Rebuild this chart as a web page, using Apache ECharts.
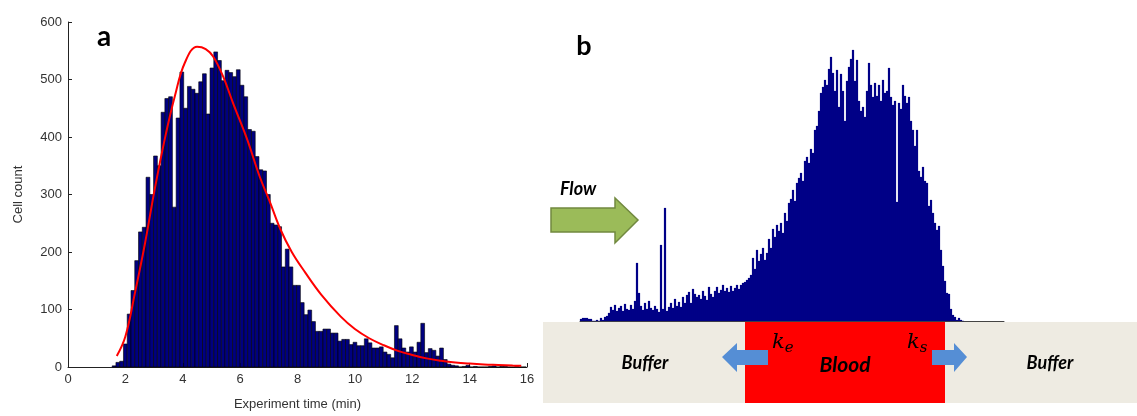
<!DOCTYPE html>
<html>
<head>
<meta charset="utf-8">
<script src="https://cdn.jsdelivr.net/npm/echarts@6/dist/echarts.min.js"></script>
<style>
html,body{margin:0;padding:0;background:#fff;}
#chart{width:1137px;height:416px;}
</style>
</head>
<body>
<div id="chart"></div>
<script>
// ---------- Panel a: histogram of experiment time ----------
const binStart = 1.54;      // min
const binWidth = 0.1312;    // min
const cellCounts = [
  2, 8, 10, 40, 92, 133, 185, 235, 243, 330,
  300, 367, 350, 443, 467, 470, 278, 433, 513, 450,
  488, 483, 476, 496, 510, 440, 520, 548, 533, 498,
  516, 512, 505, 517, 490, 470, 413, 410, 366, 343,
  341, 300, 250, 247, 244, 174, 205, 174, 142, 142,
  112, 91, 99, 79, 62, 62, 66, 66, 59, 59,
  45, 48, 48, 39, 43, 37, 37, 49, 42, 33,
  33, 35, 26, 22, 16, 72, 49, 33, 26, 35,
  26, 43, 76, 25, 32, 29, 19, 33, 13, 5,
  3, 2, 0, 1, 3, 0, 1, 0, 0, 0,
  1, 2, 0, 1, 1, 0, 0, 1, 0, 0
];
// fitted curve
const fitTime  = [1.70, 2.0, 2.33, 2.68, 3.03, 3.38, 3.73, 4.08, 4.5, 4.8, 5.06, 5.41, 5.76, 6.23, 6.69, 7.0, 7.4, 7.8, 8.26, 8.84, 9.5, 10.0, 10.5, 11.0, 11.5, 12.0, 12.5, 13.0, 13.5, 14.0, 14.5, 15.0, 15.5, 15.8];
const fitCount = [19, 53, 128, 214, 311, 398, 472, 530, 557, 553, 540, 505, 458, 398, 330, 292, 240, 200, 165, 125, 88, 66, 50, 38, 28, 21, 15, 11, 8, 6, 4.5, 3.5, 2.5, 2];
const xTicks = [0, 2, 4, 6, 8, 10, 12, 14, 16];
const yTicks = [0, 100, 200, 300, 400, 500, 600];

// ---------- Panel b: cell-position profile along the channel ----------
const profileHeights = [
  2, 3, 3, 3, 2, 2, 0, 0, 1, 0,
  3, 1, 4, 5, 8, 14, 11, 16, 10, 13,
  15, 10, 17, 12, 11, 16, 12, 20, 58, 28,
  15, 11, 18, 12, 20, 13, 11, 15, 12, 9,
  76, 12, 113, 10, 14, 18, 13, 22, 15, 19,
  14, 24, 18, 26, 29, 18, 32, 27, 24, 26,
  22, 30, 25, 21, 34, 27, 24, 30, 34, 28,
  31, 36, 30, 33, 29, 35, 30, 33, 36, 32,
  36, 38, 39, 41, 43, 46, 63, 52, 71, 60,
  67, 73, 61, 68, 82, 73, 92, 84, 96, 90,
  98, 88, 108, 100, 118, 122, 131, 120, 138, 143,
  148, 140, 160, 164, 158, 172, 168, 191, 195, 210,
  228, 234, 241, 236, 252, 264, 248, 230, 251, 214,
  247, 230, 200, 240, 254, 262, 271, 240, 261, 220,
  210, 214, 204, 230, 258, 236, 224, 238, 225, 236,
  220, 241, 228, 230, 253, 224, 216, 220, 119, 218,
  212, 236, 225, 218, 224, 200, 191, 175, 191, 150,
  144, 154, 140, 138, 115, 121, 108, 98, 91, 95,
  71, 55, 40, 28, 27, 12, 6, 4, 1, 3,
  1, 0
];

// diagram texts
const regionLabels = ['Buffer', 'Blood', 'Buffer'];
const panelLabels = ['a', 'b'];
const flowLabel = 'Flow';

const chart = echarts.init(document.getElementById('chart'), null, {renderer: 'canvas'});

const histData = cellCounts.map((c, i) => [binStart + i * binWidth, binStart + (i + 1) * binWidth, c]);
const fitData = fitTime.map((t, i) => [t, fitCount[i]]);
const profData = profileHeights.map((h, i) => [i, i + 1, h]);

function rectItem(fill, stroke, lw) {
  return function (params, api) {
    const p0 = api.coord([api.value(0), api.value(2)]);
    const p1 = api.coord([api.value(1), 0]);
    return {
      type: 'rect',
      shape: {x: p0[0], y: p0[1], width: p1[0] - p0[0], height: p1[1] - p0[1]},
      style: {fill: fill, stroke: stroke, lineWidth: lw}
    };
  };
}

const axisFont = 'Liberation Sans, Arial, sans-serif';
const labelFont = 'Lato, "Open Sans", sans-serif';

const option = {
  animation: false,
  backgroundColor: '#ffffff',
  grid: [
    {left: 68, top: 22, width: 459, height: 349},
    {left: 580, top: 21, width: 424, height: 300}
  ],
  xAxis: [
    {
      gridIndex: 0, type: 'value', min: 0, max: 16, interval: 2,
      axisLine: {show: true, lineStyle: {color: '#222', width: 1}},
      axisTick: {show: true, inside: true, length: 4, lineStyle: {color: '#222'}},
      splitLine: {show: false},
      axisLabel: {color: '#333', fontSize: 13, fontFamily: axisFont, margin: 6,
        customValues: xTicks},
      name: 'Experiment time (min)', nameLocation: 'middle', nameGap: 31,
      nameTextStyle: {color: '#333', fontSize: 13, fontFamily: axisFont}
    },
    {
      gridIndex: 1, type: 'value', min: 0, max: 212,
      axisLine: {show: true, lineStyle: {color: '#444', width: 1}},
      axisTick: {show: false}, axisLabel: {show: false}, splitLine: {show: false}
    }
  ],
  yAxis: [
    {
      gridIndex: 0, type: 'value', min: 0, max: 600, interval: 100,
      axisLine: {show: true, lineStyle: {color: '#222', width: 1}},
      axisTick: {show: true, inside: true, length: 4, lineStyle: {color: '#222'}},
      splitLine: {show: false},
      axisLabel: {color: '#333', fontSize: 13, fontFamily: axisFont, margin: 6,
        customValues: yTicks},
      name: 'Cell count', nameLocation: 'middle', nameGap: 43, nameRotate: 90,
      nameTextStyle: {color: '#333', fontSize: 13, fontFamily: axisFont}
    },
    {
      gridIndex: 1, type: 'value', min: 0, max: 300, show: false
    }
  ],
  series: [
    {
      type: 'custom', xAxisIndex: 0, yAxisIndex: 0,
      renderItem: rectItem('#000080', '#000000', 0.6),
      encode: {x: [0, 1], y: 2},
      data: histData, z: 2
    },
    {
      type: 'line', xAxisIndex: 0, yAxisIndex: 0,
      data: fitData, smooth: 0.4, showSymbol: false,
      lineStyle: {color: '#ff0000', width: 2}, z: 3
    },
    {
      type: 'custom', xAxisIndex: 1, yAxisIndex: 1,
      renderItem: rectItem('#000088', '#000088', 0.2),
      encode: {x: [0, 1], y: 2},
      data: profData, z: 2
    }
  ],
  graphic: [
    // panel labels
    {type: 'text', x: 104, y: 37, z: 10, style: {text: panelLabels[0], fill: '#000', font: 'bold 28px ' + labelFont, textAlign: 'center', textVerticalAlign: 'middle'}},
    {type: 'text', x: 584, y: 46, z: 10, style: {text: panelLabels[1], fill: '#000', font: 'bold 27px ' + labelFont, textAlign: 'center', textVerticalAlign: 'middle'}},
    // channel band
    {type: 'rect', z: 1, shape: {x: 543, y: 322, width: 594, height: 81}, style: {fill: '#eeebe2'}},
    {type: 'rect', z: 1, shape: {x: 745, y: 322, width: 200, height: 81}, style: {fill: '#ff0000'}},
    // blue arrows
    {type: 'polygon', z: 5, shape: {points: [[722, 357], [737, 343], [737, 350], [768, 350], [768, 365], [737, 365], [737, 372]]}, style: {fill: '#558ed5'}},
    {type: 'polygon', z: 5, shape: {points: [[932, 350], [954, 350], [954, 343], [967, 357], [954, 372], [954, 365], [932, 365]]}, style: {fill: '#558ed5'}},
    // region labels
    {type: 'text', x: 645, y: 363, z: 6, style: {text: regionLabels[0], fill: '#000', font: 'italic bold 18px ' + labelFont, textAlign: 'center', textVerticalAlign: 'middle'}},
    {type: 'text', x: 845, y: 365, z: 6, style: {text: regionLabels[1], fill: '#000', font: 'italic bold 21px ' + labelFont, textAlign: 'center', textVerticalAlign: 'middle'}},
    {type: 'text', x: 1050, y: 363, z: 6, style: {text: regionLabels[2], fill: '#000', font: 'italic bold 18px ' + labelFont, textAlign: 'center', textVerticalAlign: 'middle'}},
    // rate constants
    {type: 'text', x: 772, y: 343, z: 6, style: {
      text: '{k|k}{s|e}', textVerticalAlign: 'middle',
      rich: {k: {font: 'italic 21px "DejaVu Serif", serif', fill: '#000'}, s: {font: 'italic 15px "DejaVu Serif", serif', fill: '#000', padding: [10, 0, 0, 0]}}
    }},
    {type: 'text', x: 907, y: 343, z: 6, style: {
      text: '{k|k}{s|s}', textVerticalAlign: 'middle',
      rich: {k: {font: 'italic 21px "DejaVu Serif", serif', fill: '#000'}, s: {font: 'italic 15px "DejaVu Serif", serif', fill: '#000', padding: [10, 0, 0, 0]}}
    }},
    // flow arrow
    {type: 'polygon', z: 5, shape: {points: [[551, 208], [615, 208], [615, 198], [638, 220], [615, 243], [615, 232], [551, 232]]}, style: {fill: '#9bbb59', stroke: '#71893f', lineWidth: 1.5}},
    {type: 'text', x: 560, y: 189, z: 6, style: {text: flowLabel, fill: '#000', font: 'italic bold 18px ' + labelFont, textAlign: 'left', textVerticalAlign: 'middle'}}
  ]
};
chart.setOption(option);
</script>
</body>
</html>
